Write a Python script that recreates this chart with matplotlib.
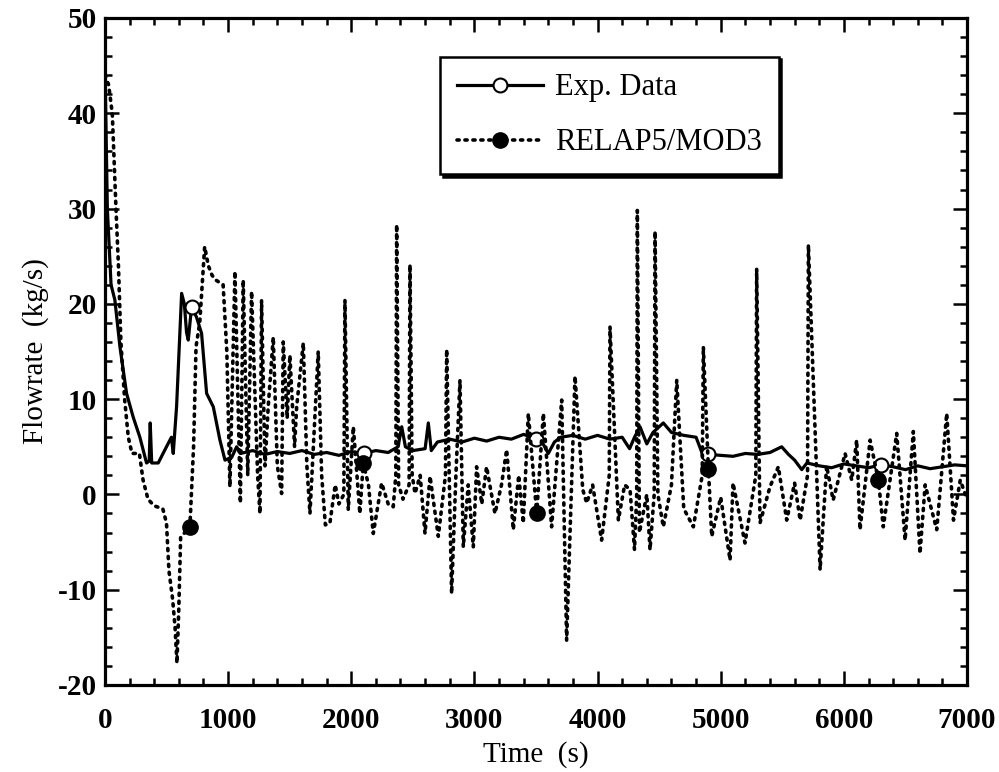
import numpy as np
import matplotlib
matplotlib.use("Agg")
import matplotlib.pyplot as plt

# Exp. Data (solid line)
exp_t = [0, 20, 50, 81, 122, 176, 230, 284, 338, 360, 368, 380, 433, 500, 540, 555, 582, 623, 645,
         663, 677, 704, 744, 785, 826, 880, 934, 975, 1030, 1070, 1100, 1200, 1300, 1400, 1500, 1600,
         1700, 1800, 1900, 2000, 2100, 2200, 2300, 2380, 2410, 2440, 2500, 2600, 2626, 2650, 2700,
         2800, 2900, 3000, 3100, 3200, 3300, 3400, 3500, 3550, 3600, 3650, 3700, 3800, 3900, 4000,
         4100, 4200, 4260, 4300, 4345, 4400, 4450, 4534, 4600, 4700, 4800, 4850, 4900, 5000, 5100,
         5200, 5300, 5400, 5495, 5550, 5600, 5658, 5700, 5800, 5900, 6000, 6100, 6200, 6300, 6400,
         6500, 6600, 6700, 6800, 6900, 7000]
exp_v = [45.5, 30, 22, 20.4, 15.5, 10.6, 8.1, 6, 3.3, 3.5, 7.5, 3.3, 3.3, 5, 6, 4.3, 9.2, 21.1, 20,
         17, 16.2, 19.7, 18.6, 16.9, 10.6, 9.2, 5.7, 3.6, 3.9, 5, 4.3, 4.6, 4.2, 4.5, 4.3, 4.6,
         4.2, 4.4, 4.1, 4.5, 4.3, 4.6, 4.4, 5, 7.1, 5, 4.6, 4.8, 7.5, 4.6, 5.5,
         5.8, 5.5, 5.9, 5.6, 6, 5.8, 6.3, 5.8, 5.5, 4.3, 5.5, 6, 6.2, 5.8, 6.2,
         5.8, 6, 4.8, 6, 7.1, 5.3, 6.5, 7.5, 6.5, 6.2, 6, 4.3, 4.2, 4.1, 4,
         4.3, 4.2, 4.4, 5, 4.2, 3.6, 2.6, 3.3, 3.0, 2.8, 3.2, 3.0, 2.8, 3.1, 2.9,
         2.6, 3.0, 2.7, 2.9, 3.1, 3.0]

# RELAP5/MOD3 (dotted line)
rel_t = [0, 30, 60, 90, 110, 130, 160, 190, 220, 280, 310, 350, 400, 470, 500, 520, 550, 570, 585,
         600, 615, 690, 720, 740, 770, 810, 840, 870, 900, 960, 990, 1015, 1056, 1100, 1123, 1160,
         1191, 1240, 1259, 1272, 1300, 1326, 1367, 1400, 1435, 1448, 1480, 1502, 1540, 1557, 1611,
         1640, 1665, 1732, 1760, 1790, 1827, 1870, 1900, 1940, 1949, 1976, 2017, 2070, 2098, 2140,
         2179, 2247, 2300, 2341, 2362, 2369, 2385, 2420, 2470, 2477, 2495, 2518, 2560, 2599, 2640,
         2707, 2765, 2775, 2815, 2850, 2883, 2910, 2950, 2991, 3018, 3060, 3099, 3167, 3220, 3262,
         3316, 3360, 3397, 3438, 3506, 3560, 3627, 3709, 3749, 3817, 3880, 3912, 3960, 4033, 4095,
         4101, 4169, 4220, 4264, 4300, 4318, 4323, 4340, 4400, 4426, 4460, 4467, 4490, 4534, 4600,
         4643, 4700, 4778, 4850, 4859, 4900, 4927, 5000, 5076, 5100, 5197, 5285, 5292, 5319, 5400,
         5468, 5536, 5600, 5645, 5705, 5712, 5807, 5860, 5913, 6010, 6064, 6104, 6131, 6213, 6280,
         6320, 6429, 6497, 6564, 6618, 6660, 6754, 6835, 6890, 6945, 7000]
rel_v = [44, 43, 40, 30, 24, 16, 10, 6, 4.3, 4.3, 1.5, -0.5, -1.2, -1.5, -3, -8, -11, -14, -17.7,
         -12, -4.5, -3.4, 5, 15.5, 18, 26, 24, 23, 22.5, 22, 15, 0.8, 23.4, -0.9, 22.5, 2,
         21.3, 2, -2, 20.4, 3, 9.2, 16.5, 3, 0.1, 16, 8, 14.6, 5, 9.2, 15.9,
         3, -2, 15, 2, -3.2, -3, 1, -1, 0, 20.4, -1.6, 7.1, -2, 3.3, 1,
         -4.1, 1.2, -1, -1.3, 2, 28.3, 1, -0.5, 1, 24.1, 2, 0.1, 2, -4.1, 1.9,
         -4.4, 2, 15.2, -10.4, 2, 12, -5.5, 1, -5.5, 2.9, -1, 2.9, -2.0, 1, 4.7,
         -3.7, 2, -3, 8.5, -2.0, 8.5, -3.4, 9.9, -15.3, 12.4, 0.5, -0.9, 1, -4.8, 2,
         17.6, -2.7, 1, 0.5, -5.8, 0, 29.8, -4, 0, -5.8, 0, 27.6, 0, -3.4, 1,
         12, -1.5, -3.4, 2, 15.5, 2.7, -4.4, -0.3, -6.9, 1.2, -5.1, 2, 23.7, -3, 0.8,
         2.9, -2.7, 1.2, -2.7, 2, 26.2, -7.9, 3, -0.6, 4.3, 1.5, 5.7, -3.7, 5.7, 1.5,
         -3.4, 6.4, -4.8, 6.6, -6.2, 1, -3.7, 8.5, -2.7, 1.5, -0.5]

exp_mark_t = [700, 2100, 3500, 4900, 6300]
rel_mark_t = [690, 2098, 3506, 4900, 6280]

exp_t = np.array(exp_t)
rel_t = np.array(rel_t)
exp_idx = [int(np.abs(exp_t - m).argmin()) for m in exp_mark_t]
rel_idx = [int(np.abs(rel_t - m).argmin()) for m in rel_mark_t]

plt.rcParams['font.family'] = ['Liberation Serif', 'DejaVu Serif']
plt.rcParams['axes.unicode_minus'] = False

fig = plt.figure(figsize=(9.99, 7.72), dpi=100)
ax = fig.add_axes([0.105, 0.1127, 0.863, 0.864])

ax.plot(exp_t, exp_v, color='black', linewidth=2.3, marker='o', markersize=10,
        markerfacecolor='white', markeredgecolor='black', markeredgewidth=1.5,
        markevery=exp_idx, label='Exp. Data')
ax.plot(rel_t, rel_v, color='black', linewidth=2.6, linestyle=(0, (0.6, 1.6)),
        dash_capstyle='round', marker='o', markersize=11, markerfacecolor='black',
        markevery=rel_idx, label='RELAP5/MOD3')

ax.set_xlim(0, 7000)
ax.set_ylim(-20, 50)
ax.set_xticks(np.arange(0, 7001, 1000))
ax.set_xticks(np.arange(0, 7001, 200), minor=True)
ax.set_yticks(np.arange(-20, 51, 10))
ax.set_yticks(np.arange(-20, 51, 2), minor=True)
ax.tick_params(which='both', direction='in', top=True, right=True, width=1.8,
               labelsize=21, pad=6)
ax.tick_params(axis='x', which='major', pad=16)
ax.tick_params(which='major', length=10)
ax.tick_params(which='minor', length=5)
for lab in ax.get_xticklabels() + ax.get_yticklabels():
    lab.set_fontweight('bold')
for s in ax.spines.values():
    s.set_linewidth(2.3)

ax.set_xlabel('Time  (s)', fontsize=21, labelpad=5)
ax.set_ylabel('Flowrate  (kg/s)', fontsize=21, labelpad=6)

leg = ax.legend(loc='upper left', bbox_to_anchor=(0.389, 0.942), fontsize=22,
                frameon=True, fancybox=False, shadow={'color': 'black', 'alpha': 1},
                handlelength=2.8, borderpad=0.55, labelspacing=0.85, handletextpad=0.4,
                numpoints=1, borderaxespad=0)
leg.get_frame().set_edgecolor('black')
leg.get_frame().set_linewidth(1.8)
leg.get_frame().set_alpha(1)

fig.savefig('out.png', dpi=100)
